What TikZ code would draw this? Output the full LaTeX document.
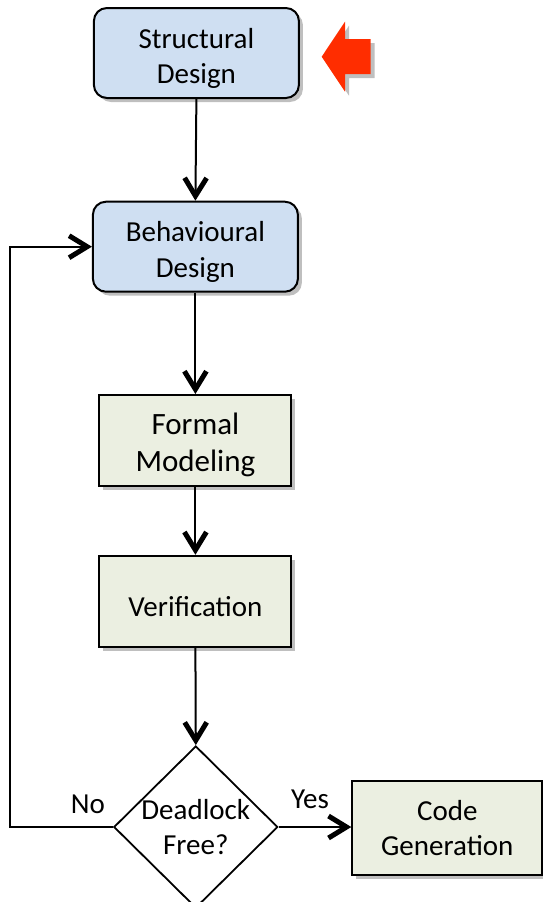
\documentclass[tikz,border=0pt]{standalone}
\usepackage{fontspec}
\setmainfont{Carlito}
\usetikzlibrary{arrows.meta,shapes.geometric,shadows}
\definecolor{bluefill}{RGB}{207,223,242}
\definecolor{greenfill}{RGB}{235,239,225}
\definecolor{redarrow}{RGB}{255,45,0}
\newcommand\dnstrut{\rule{0pt}{31pt}}
\begin{document}
\begin{tikzpicture}[x=1pt,y=-1pt,
  shadowed/.style={drop shadow={shadow xshift=4pt,shadow yshift=-4pt,opacity=0.25,fill=black}},
  txt/.style={font=\fontsize{29}{35.5}\selectfont},
  bluebox/.style={draw=black,line width=2pt,fill=bluefill,rounded corners=13pt,
    minimum width=205pt,minimum height=90pt,align=center,inner sep=0pt,txt,shadowed},
  greenbox/.style={draw=black,line width=2pt,fill=greenfill,
    minimum width=192pt,minimum height=91pt,align=center,inner sep=0pt,txt,shadowed},
  decision/.style={draw=black,line width=1.8pt,fill=white,diamond,aspect=1,
    minimum width=164pt,minimum height=162pt,inner sep=0pt},
  conn/.style={draw=black,line width=2pt,
    -{Straight Barb[length=18pt,width=22pt,line width=5pt]}},
  plain/.style={draw=black,line width=2pt}
]
\useasboundingbox (0,0) rectangle (543,902);

\node[bluebox] (sd) at (196.4,53) {\dnstrut Structural\\Design};
\node[bluebox] (bd) at (195.4,246.7) {\dnstrut Behavioural\\Design};
\node[greenbox,font=\fontsize{31}{36.7}\selectfont] (fm) at (195.4,440.5) {\dnstrut Formal\\Modeling};
\node[greenbox] (vf) at (195.4,601.3) {\dnstrut Verification};
\node[decision,label={[txt,align=center]center:Deadlock\\Free?}] (dec) at (195.8,827) {};
\node[greenbox,minimum width=190pt,minimum height=94pt] (cg) at (447.3,828) {Code\\Generation};

\coordinate (lp) at (10,827);

\node[txt,anchor=base] (no) at (88,813) {No};
\node[txt,anchor=base] (yes) at (310,808) {Yes};

\path[fill=redarrow,shadowed] (321.7,56.7) -- (345,21.7) -- (345,39) -- (370.7,39)
  -- (370.7,74) -- (345,74) -- (345,91.7) -- cycle;

\draw[conn] (sd.south) -- (bd.north);
\draw[conn] (bd.south -| fm.north) -- (fm.north);
\draw[conn] (fm.south) -- (vf.north);
\draw[conn] (vf.south) -- (dec.north);
\draw[conn] (dec.east) -- (dec.east -| cg.west);
\draw[conn] (dec.west) -- (lp) |- (bd.west);
\end{tikzpicture}
\end{document}
